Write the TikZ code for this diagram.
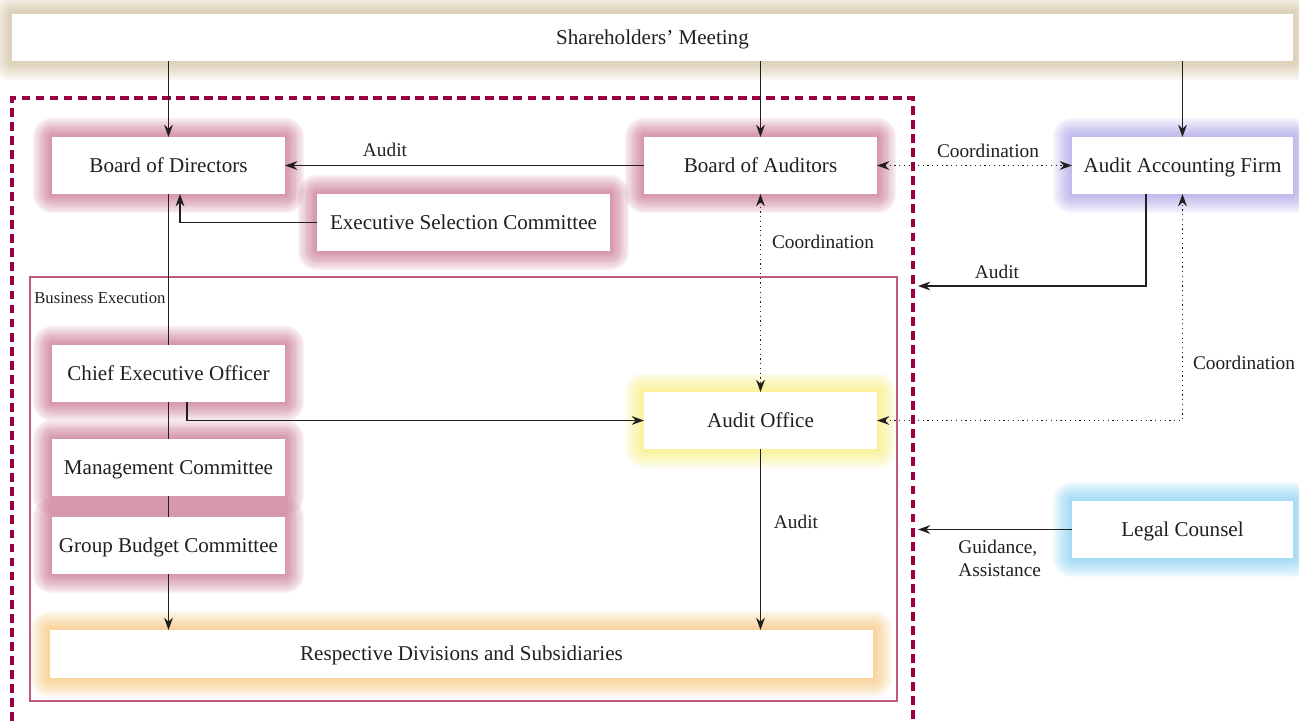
\documentclass[tikz,border=0pt]{standalone}
\usepackage{fontspec}
\setmainfont{Liberation Serif}
\usetikzlibrary{calc,arrows.meta}
\definecolor{ink}{RGB}{35,31,32}
\definecolor{maroon}{RGB}{153,0,68}
\definecolor{bexec}{RGB}{190,90,130}
\definecolor{gpink}{RGB}{185,70,105}
\definecolor{gtan}{RGB}{200,175,130}
\definecolor{glav}{RGB}{145,135,225}
\definecolor{gyel}{RGB}{250,236,80}
\definecolor{gblue}{RGB}{95,195,245}
\definecolor{gorange}{RGB}{250,180,80}
\tikzset{
  gl/.style 2 args={preaction={draw=#1, draw opacity=0.065, line width=#2, line join=round}},
  glow/.style={
    gl={#1}{22pt}, gl={#1}{20pt}, gl={#1}{18pt}, gl={#1}{16pt},
    gl={#1}{14pt}, gl={#1}{12pt}, gl={#1}{10pt}, gl={#1}{8pt},
    gl={#1}{6pt}, gl={#1}{4pt}, gl={#1}{2pt}},
  bx/.style n args={3}{fill=white, draw=none, inner sep=0pt, outer sep=0pt,
    minimum width=#1*0.02cm, minimum height=#2*0.02cm, glow=#3,
    font=\fontsize{12}{14}\selectfont, text=ink, text height=7.9pt, text depth=0pt},
  lab/.style={font=\fontsize{11}{13}\selectfont, text=ink, inner sep=0pt},
  arr/.style={draw=ink, line width=0.7pt, -{Stealth[length=7pt,width=5pt]}},
  dotarr/.style={draw=ink, line width=0.7pt, dotted, {Stealth[length=7pt,width=5pt]}-{Stealth[length=7pt,width=5pt]}},
  ln/.style={draw=ink, line width=0.7pt}
}
\begin{document}
\begin{tikzpicture}[x=0.02cm,y=-0.02cm]
\useasboundingbox (0,0) rectangle (1299,721);
\fill[white] (0,0) rectangle (1299,721);

% frames
\draw[bexec, line width=0.8pt] (30,277) rectangle (897,701);
\node[anchor=west, font=\fontsize{9.5}{11}\selectfont, text=ink, inner sep=0pt] (bexlab) at (34,298) {Business Execution};

% boxes
\node[bx={1281}{47}{gtan}] (sh) at (652.5,37.5) {Shareholders’ Meeting};
\node[bx={233}{57}{gpink}] (bod) at (168.5,165.5) {Board of Directors};
\node[bx={233}{57}{gpink}] (boa) at (760.5,165.5) {Board of Auditors};
\node[bx={293}{57}{gpink}] (esc) at (463.5,222.5) {Executive Selection Committee};
\node[bx={221}{57}{glav}] (aaf) at (1182.5,165.5) {Audit Accounting Firm};
\node[bx={233}{57}{gpink}] (ceo) at (168.5,373.5) {Chief Executive Officer};
\node[bx={233}{57}{gpink}] (mc) at (168.5,467.5) {Management Committee};
\node[bx={233}{57}{gpink}] (gbc) at (168.5,545.5) {Group Budget Committee};
\node[bx={233}{57}{gyel}] (ao) at (760.5,420.5) {Audit Office};
\node[bx={221}{57}{gblue}] (lc) at (1182.5,529.5) {Legal Counsel};
\node[bx={823}{48}{gorange}] (rds) at (461.5,654) {Respective Divisions and Subsidiaries};

% dashed group border
\draw[maroon, line width=2.3pt, dash pattern=on 5pt off 3pt] (12,721) -- (12,98) -- (913,98) -- (913,721);
\coordinate (dA) at (918,286);
\coordinate (dL) at (918,529);

% connectors
\draw[arr] (sh.south -| bod.north) -- (bod.north);
\draw[arr] (sh.south -| boa.north) -- (boa.north);
\draw[arr] (sh.south -| aaf.north) -- (aaf.north);
\draw[arr] (boa.west) -- (bod.east);
\node[lab] (l1) at (385,150) {Audit};
\draw[arr] (esc.west) -| ($(bod.south)+(11.5,0)$);
\draw[ln] (bod.south) -- (ceo.north);
\draw[ln] (ceo.south) -- (mc.north);
\draw[ln] (mc.south) -- (gbc.north);
\draw[arr] (gbc.south) -- (gbc.south |- rds.north);
\draw[arr] ($(ceo.south)+(18.5,0)$) |- (ao.west);
\draw[dotarr] (boa.south) -- (ao.north);
\node[lab] (l2) at (823,242) {Coordination};
\draw[dotarr] (boa.east) -- (aaf.west);
\node[lab] (l3) at (988,151) {Coordination};
\draw[arr] ($(aaf.south)+(-36.5,0)$) |- (dA);
\node[lab] (l4) at (997,272) {Audit};
\draw[dotarr] (ao.east) -| (aaf.south);
\node[lab] (l5) at (1244,363) {Coordination};
\draw[arr] (lc.west) -- (lc.west -| dL);
\node[lab, anchor=north west, align=left] (l6) at (958,540) {Guidance,\\Assistance};
\draw[arr] (ao.south) -- (ao.south |- rds.north);
\node[lab] (l7) at (796,522) {Audit};
\end{tikzpicture}
\end{document}
